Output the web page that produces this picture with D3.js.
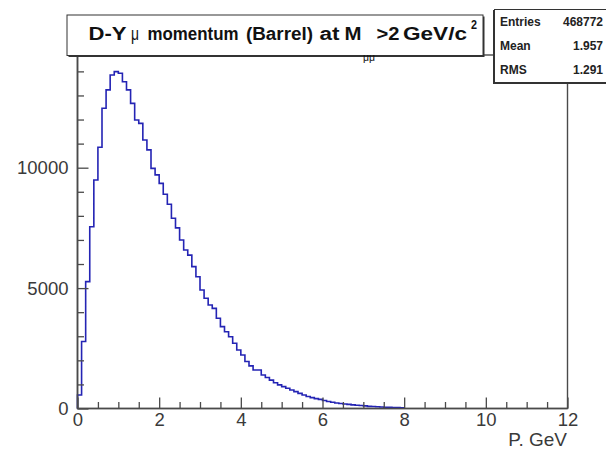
<!DOCTYPE html>
<html>
<head>
<meta charset="utf-8">
<script src="https://cdn.jsdelivr.net/npm/d3@7"></script>
<style>
  body { margin: 0; background: #fff; }
  svg { display: block; font-family: "Liberation Sans", Arial, Helvetica, sans-serif; }
</style>
</head>
<body>
<svg width="606" height="450"></svg>
<script>
// histogram: 0.1 GeV bins starting at 0, empty above 8 GeV
const BIN_WIDTH = 0.1;
const counts = [
  560, 2780, 5270, 7550, 9490, 10850, 12470, 13230, 13850, 13990,
  13920, 13570, 13230, 12670, 11980, 11840, 11150, 10740, 9970, 9700,
  9350, 8900, 8480, 7900, 7500, 7000, 6580, 6370, 5890, 5470,
  4920, 4580, 4300, 4160, 3750, 3400, 3190, 2980, 2710, 2430,
  2220, 1950, 1770, 1600, 1600, 1390, 1290, 1180, 1070, 980,
  910, 840, 770, 700, 630, 560, 500, 450, 410, 380,
  330, 290, 260, 230, 210, 190, 170, 150, 135, 125,
  110, 90, 80, 70, 65, 55, 45, 40, 35, 30
];

const xMajor = [0, 2, 4, 6, 8, 10, 12];
const xMinor = [0.5, 1, 1.5, 2.5, 3, 3.5, 4.5, 5, 5.5, 6.5, 7, 7.5, 8.5, 9, 9.5, 10.5, 11, 11.5];
const yMajor = [0, 5000, 10000];
const yMinor = [1000, 2000, 3000, 4000, 6000, 7000, 8000, 9000, 11000, 12000, 13000, 14000];

const statNames = ["Entries", "Mean", "RMS"];
const statValues = ["468772", "1.957", "1.291"];

// title pieces: text, left edge and width in px (ROOT TLatex spreads the words)
const titleWords = [
  { t: "D-Y", x: 88.5, w: 38 },
  { t: "\u03bc", x: 131, w: 8, normal: true },
  { t: "momentum", x: 147.5, w: 91 },
  { t: "(Barrel)", x: 246, w: 67 },
  { t: "at", x: 319.5, w: 20 },
  { t: "M", x: 344.5, w: 17 },
  { t: "\u03bc\u03bc", x: 363, w: 12, sub: true },
  { t: ">2", x: 376.5, w: 23 },
  { t: "GeV/c", x: 403, w: 64 },
  { t: "2", x: 471, w: 6, sup: true }
];

const FRAME = { left: 77.5, right: 567.5, top: 55, bottom: 408.5 };
const LINE_COLOR = "#2424b4";
const AXIS_COLOR = "#4a4a4a";

const svg = d3.select("svg");

const x = d3.scaleLinear().domain([0, 12]).range([FRAME.left, FRAME.right]);
const y = d3.scaleLinear().domain([0, 14680]).range([FRAME.bottom, FRAME.top]);

// frame
svg.append("rect")
  .attr("x", FRAME.left)
  .attr("y", FRAME.top)
  .attr("width", FRAME.right - FRAME.left)
  .attr("height", FRAME.bottom - FRAME.top)
  .attr("fill", "none")
  .attr("stroke", AXIS_COLOR)
  .attr("stroke-width", 1.4);

// histogram outline
const pts = [[0, 0]]
  .concat(counts.map((c, i) => [i * BIN_WIDTH, c]))
  .concat([[counts.length * BIN_WIDTH, 0]]);

svg.append("path")
  .datum(pts)
  .attr("fill", "none")
  .attr("stroke", LINE_COLOR)
  .attr("stroke-width", 1.6)
  .attr("d", d3.line()
    .x(d => x(d[0]))
    .y(d => y(d[1]))
    .curve(d3.curveStepAfter));

// axes, ticks pointing into the frame like ROOT
function styleAxis(g) {
  g.select(".domain").remove();
  g.selectAll(".tick line").attr("stroke", AXIS_COLOR).attr("stroke-width", 1.3);
  g.selectAll("text").attr("fill", "#3a3a3a").attr("font-size", 18.5);
}

svg.append("g")
  .attr("transform", `translate(0,${FRAME.bottom})`)
  .call(d3.axisBottom(x).tickValues(xMinor).tickSizeInner(-6.5).tickSizeOuter(0).tickFormat(""))
  .call(styleAxis);

svg.append("g")
  .attr("transform", `translate(0,${FRAME.bottom})`)
  .call(d3.axisBottom(x).tickValues(xMajor).tickSizeInner(-11).tickSizeOuter(0).tickPadding(4).tickFormat(d3.format("d")))
  .call(styleAxis);

svg.append("g")
  .attr("transform", `translate(${FRAME.left},0)`)
  .call(d3.axisLeft(y).tickValues(yMinor).tickSizeInner(-6.5).tickSizeOuter(0).tickFormat(""))
  .call(styleAxis);

svg.append("g")
  .attr("transform", `translate(${FRAME.left},0)`)
  .call(d3.axisLeft(y).tickValues(yMajor).tickSizeInner(-11).tickSizeOuter(0).tickPadding(9).tickFormat(d3.format("d")))
  .call(styleAxis);

// axis lines on top of histogram
svg.append("line")
  .attr("x1", FRAME.left).attr("x2", FRAME.right)
  .attr("y1", FRAME.bottom).attr("y2", FRAME.bottom)
  .attr("stroke", AXIS_COLOR).attr("stroke-width", 1.6);
svg.append("line")
  .attr("x1", FRAME.left).attr("x2", FRAME.left)
  .attr("y1", FRAME.top).attr("y2", FRAME.bottom)
  .attr("stroke", AXIS_COLOR).attr("stroke-width", 1.6);

svg.append("text")
  .attr("x", 567)
  .attr("y", 446)
  .attr("text-anchor", "end")
  .attr("font-size", 19)
  .attr("fill", "#3a3a3a")
  .text("P. GeV");

// title box (pave with shadow)
const title = svg.append("g");
title.append("rect")
  .attr("x", 68.5).attr("y", 16.5).attr("width", 416).attr("height", 40.5)
  .attr("fill", "#333");
title.append("rect")
  .attr("x", 67).attr("y", 15).attr("width", 416).attr("height", 40.5)
  .attr("fill", "#fff").attr("stroke", "#333").attr("stroke-width", 1);

title.selectAll(".tw")
  .data(titleWords)
  .join("text")
  .attr("class", "tw")
  .attr("x", d => d.x)
  .attr("y", d => d.sub ? 61 : d.sup ? 29 : 40)
  .attr("font-size", d => d.sub ? 10 : d.sup ? 12 : 17.5)
  .attr("font-weight", d => (d.normal || d.sub) ? "normal" : "bold")
  .attr("textLength", d => d.w)
  .attr("lengthAdjust", "spacingAndGlyphs")
  .attr("fill", "#111")
  .text(d => d.t);

// stats box
const stats = svg.append("g");
stats.append("rect")
  .attr("x", 493).attr("y", 10).attr("width", 120).attr("height", 74)
  .attr("fill", "#333");
stats.append("rect")
  .attr("x", 494.5).attr("y", 9.5).attr("width", 120).attr("height", 73)
  .attr("fill", "#fff").attr("stroke", "#333").attr("stroke-width", 1);

const rowY = d3.scalePoint().domain(statNames).range([26, 74]);
stats.selectAll(".sname")
  .data(statNames)
  .join("text")
  .attr("class", "sname")
  .attr("x", 500)
  .attr("y", d => rowY(d))
  .attr("font-size", 12)
  .attr("font-weight", "bold")
  .attr("fill", "#222")
  .text(d => d);
stats.selectAll(".sval")
  .data(statValues)
  .join("text")
  .attr("class", "sval")
  .attr("x", 603)
  .attr("y", (d, i) => rowY(statNames[i]))
  .attr("text-anchor", "end")
  .attr("font-size", 12)
  .attr("font-weight", "bold")
  .attr("fill", "#222")
  .text(d => d);
</script>
</body>
</html>
